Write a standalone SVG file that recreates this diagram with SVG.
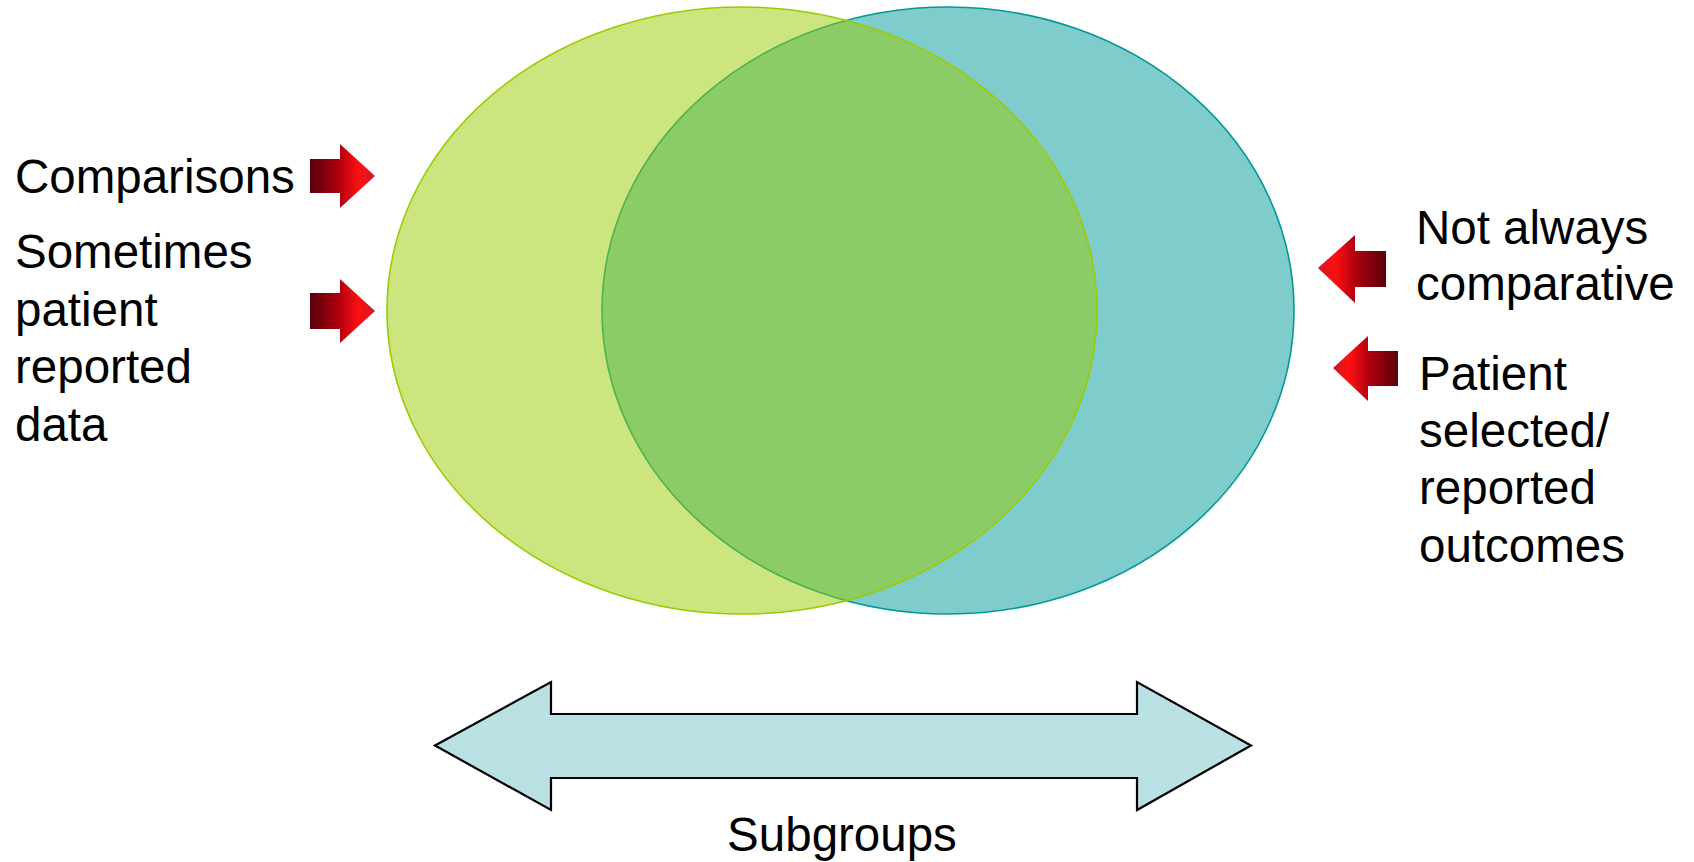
<svg xmlns="http://www.w3.org/2000/svg" width="1694" height="862" viewBox="0 0 1694 862">
  <style>
    .t { font-family: "Liberation Sans", Arial, sans-serif; font-size: 47.5px; fill: #000; }
  </style>
  <defs>
    <linearGradient id="gR" x1="0" y1="0" x2="1" y2="0">
      <stop offset="0" stop-color="#5a0008"/>
      <stop offset="0.45" stop-color="#b00010"/>
      <stop offset="0.75" stop-color="#ff1010"/>
      <stop offset="1" stop-color="#d01828"/>
    </linearGradient>
    <linearGradient id="gL" x1="1" y1="0" x2="0" y2="0">
      <stop offset="0" stop-color="#5a0008"/>
      <stop offset="0.45" stop-color="#b00010"/>
      <stop offset="0.75" stop-color="#ff1010"/>
      <stop offset="1" stop-color="#d01828"/>
    </linearGradient>
  </defs>

  <g id="teal-set">
    <ellipse cx="948" cy="310.5" rx="346" ry="303.5" fill="#009999" fill-opacity="0.5" stroke="#009999" stroke-width="1.6"/>
  </g>
  <g id="green-set">
    <ellipse cx="742" cy="310.5" rx="355" ry="303.5" fill="#99cc00" fill-opacity="0.5" stroke="#99cc00" stroke-width="1.6"/>
  </g>

  <g id="connectors">
    <polygon points="310,159 340,159 340,144 375,176 340,208 340,193 310,193" fill="url(#gR)"/>
    <polygon points="310,293 340,293 340,279 375,311 340,343 340,329 310,329" fill="url(#gR)"/>
    <polygon points="1386,251 1355,251 1355,235 1318,268 1355,303 1355,287 1386,287" fill="url(#gL)"/>
    <polygon points="1398,351 1368,351 1368,336 1333,368 1368,401 1368,386 1398,386" fill="url(#gL)"/>
  </g>

  <g id="subgroups-arrow">
    <polygon points="435,745.5 551,682 551,714 1137,714 1137,682 1251,745.5 1137,810 1137,778 551,778 551,810" fill="#b9e0e3" stroke="#000" stroke-width="2.2" stroke-linejoin="miter"/>
    <text class="t" x="842" y="851" text-anchor="middle">Subgroups</text>
  </g>

  <g id="left-labels">
    <text class="t" x="15" y="193">Comparisons</text>
    <text class="t" x="15" y="268">Sometimes</text>
    <text class="t" x="15" y="326">patient</text>
    <text class="t" x="15" y="383">reported</text>
    <text class="t" x="15" y="441">data</text>
  </g>

  <g id="right-labels">
    <text class="t" x="1416" y="244">Not always</text>
    <text class="t" x="1416" y="300">comparative</text>
    <text class="t" x="1419" y="390">Patient</text>
    <text class="t" x="1419" y="447">selected/</text>
    <text class="t" x="1419" y="504">reported</text>
    <text class="t" x="1419" y="562">outcomes</text>
  </g>
</svg>
